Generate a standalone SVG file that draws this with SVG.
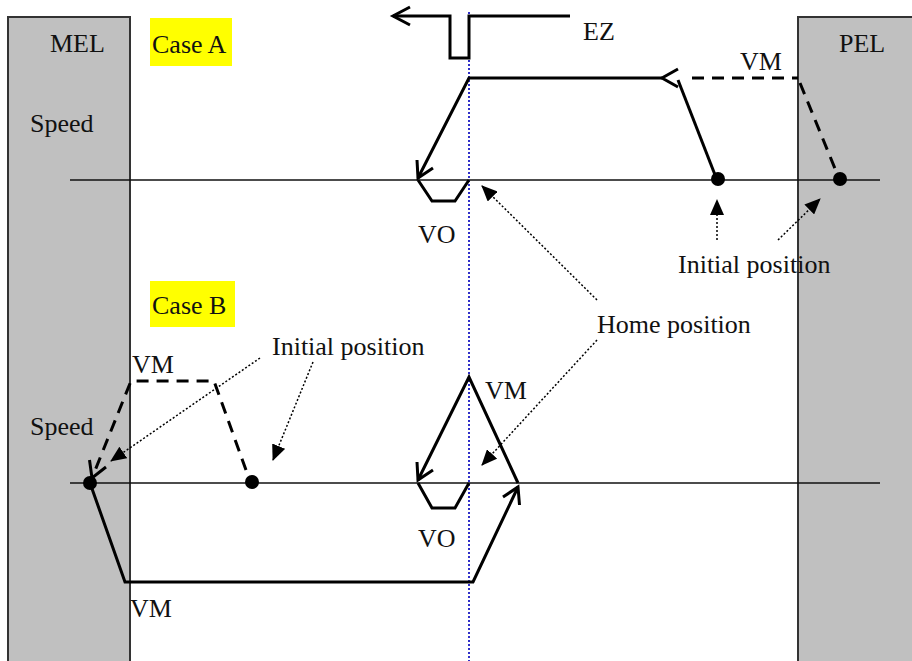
<svg xmlns="http://www.w3.org/2000/svg" width="912" height="661" viewBox="0 0 912 661">
<defs>
<marker id="tri" markerUnits="userSpaceOnUse" markerWidth="16" markerHeight="14" refX="15" refY="7" orient="auto">
<path d="M0,0 L16,7 L0,14 Z" fill="#000"/>
</marker>
<style>
.lim{fill:#c0c0c0;stroke:#333;stroke-width:2}
.t{font-family:"Liberation Serif","Times New Roman",serif;font-size:26px;fill:#111}
.axis{stroke:#111;stroke-width:1.6;fill:none}
.prof{stroke:#000;stroke-width:3;fill:none;stroke-linejoin:miter}
.dash{stroke:#000;stroke-width:3;fill:none;stroke-dasharray:12 8}
.dot{stroke:#000;stroke-width:1.5;fill:none;stroke-dasharray:2 2}
.blue{stroke:#3030c8;stroke-width:2;stroke-dasharray:2 2;fill:none}
.hl{fill:#ffff00}
</style>
</defs>
<rect width="912" height="661" fill="#fff"/>
<g id="MEL">
<rect class="lim" x="8" y="17" width="122" height="660"/>
<text class="t" x="50" y="52">MEL</text>
</g>
<g id="PEL">
<rect class="lim" x="798" y="17" width="130" height="660"/>
<text class="t" x="839" y="52">PEL</text>
</g>
<g id="labels">
<text class="t" x="30" y="132">Speed</text>
<text class="t" x="30" y="435">Speed</text>
</g>
<g id="caseA">
<rect class="hl" x="150" y="18" width="82" height="48"/>
<text class="t" x="152" y="53">Case A</text>
</g>
<g id="caseB">
<rect class="hl" x="150" y="281" width="85" height="46"/>
<text class="t" x="152" y="314">Case B</text>
</g>
<g id="axes">
<line class="axis" x1="70" y1="180" x2="880" y2="180"/>
<line class="axis" x1="70" y1="483" x2="880" y2="483"/>
<line class="blue" x1="469" y1="12" x2="469" y2="661"/>
</g>
<g id="EZ">
<polyline class="prof" points="393,16 450,16 450,58 469,58 469,16 570,16"/>
<polyline class="prof" points="410,7 393,16 410,25"/>
<text class="t" x="583" y="40">EZ</text>
</g>
<g id="connectors">
<polyline class="prof" points="662,78 469,78 418,178"/>
<polyline class="prof" points="433,168 418,178 417,160"/>
<polyline class="prof" points="418,180 432,201 455,201 469,180"/>
<polyline class="prof" points="678,69 662,78 678,87"/>
<line class="prof" x1="717" y1="180" x2="678" y2="80"/>
<line class="dash" x1="692" y1="78" x2="798" y2="78"/>
<line class="dash" x1="800" y1="83" x2="838" y2="176"/>
<circle cx="718" cy="179" r="7"/>
<circle cx="840" cy="179" r="7"/>
<polyline class="prof" points="90,483 125,582 473,582 518,487"/>
<polyline class="prof" points="503,497 518,487 519.5,505"/>
<polyline class="prof" points="518,483 469,377 418,480"/>
<polyline class="prof" points="433,470 418,480 417,462"/>
<polyline class="prof" points="418,483 432,508 455,508 469,483"/>
<polyline class="dash" points="246,470 214,381 131,381 92,478"/>
<polyline class="prof" points="106,467 92,478 89.5,460"/>
<circle cx="90" cy="483" r="7"/>
<circle cx="252" cy="482" r="7"/>
<line class="dot" x1="597" y1="300" x2="482" y2="186" marker-end="url(#tri)"/>
<line class="dot" x1="597" y1="340" x2="482" y2="465" marker-end="url(#tri)"/>
<line class="dot" x1="717" y1="240" x2="717" y2="200" marker-end="url(#tri)"/>
<line class="dot" x1="778" y1="240" x2="820" y2="199" marker-end="url(#tri)"/>
<line class="dot" x1="260" y1="358" x2="111" y2="461" marker-end="url(#tri)"/>
<line class="dot" x1="313" y1="362" x2="273" y2="460" marker-end="url(#tri)"/>
</g>
<g id="texts">
<text class="t" x="740" y="70">VM</text>
<text class="t" x="418" y="243">VO</text>
<text class="t" x="678" y="273">Initial position</text>
<text class="t" x="597" y="333">Home position</text>
<text class="t" x="272" y="355">Initial position</text>
<text class="t" x="132" y="373">VM</text>
<text class="t" x="485" y="399">VM</text>
<text class="t" x="418" y="547">VO</text>
<text class="t" x="130" y="617">VM</text>
</g>
</svg>
